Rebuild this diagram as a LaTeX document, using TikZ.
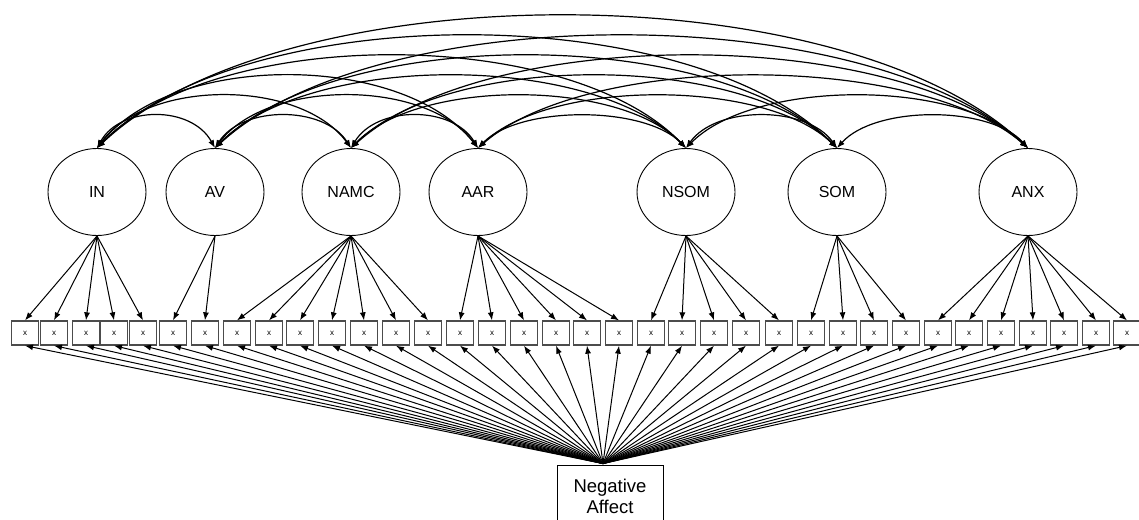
\documentclass[tikz,border=0pt]{standalone}
\usepackage{fontspec}
\setmainfont{Liberation Sans}
\usetikzlibrary{arrows.meta,calc,shapes.geometric}
\begin{document}
\begin{tikzpicture}[x=1pt,y=-1pt,
  lat/.style={ellipse, draw, line width=0.9pt, minimum width=98pt, minimum height=87pt, inner sep=0pt, font=\fontsize{16}{19}\selectfont},
  ind/.style={rectangle, draw=black!70, line width=1.3pt, minimum width=27pt, minimum height=24pt, inner sep=0pt, font=\fontsize{8}{9}\selectfont},
  nabox/.style={rectangle, draw, line width=0.9pt, minimum width=106pt, minimum height=66pt, inner sep=0pt},
  natext/.style={align=center, font=\fontsize{18.5}{21}\selectfont},
  load/.style={-{Latex[length=8pt,width=6pt]}, line width=1pt},
  cov/.style={{Latex[length=8pt,width=6pt]}-{Latex[length=8pt,width=6pt]}, line width=1.2pt},
]
\useasboundingbox (0,0) rectangle (1139,519);

% latent factors
\foreach \n/\x [count=\i] in {IN/97, AV/215, NAMC/351, AAR/478, NSOM/686, SOM/837, ANX/1028}
  \node[lat] (L\i) at (\x,192) {\n};

% indicator boxes
\foreach \x [count=\i] in {25,54,86,114,143,173,205,237,269,300,332,364,396,428,460,492,524,556,587,619,651,682,714,746,779,811,843,874,906,938,969,1001,1033,1064,1096,1127}
  \node[ind] (b\i) at (\x,333) {x};

% Negative Affect
\node[nabox] (NA) at (610,498) {};
\node[natext] (NAt) at (610,496) {Negative\\Affect};
\coordinate (nap) at ($(NA.north)+(-7,-1)$);

% loadings
\foreach \i in {1,...,5}   \draw[load] (L1.south) -- (b\i.north);
\foreach \i in {6,7}       \draw[load] (L2.south) -- (b\i.north);
\foreach \i in {8,...,14}  \draw[load] (L3.south) -- (b\i.north);
\foreach \i in {15,...,20} \draw[load] (L4.south) -- (b\i.north);
\foreach \i in {21,...,25} \draw[load] (L5.south) -- (b\i.north);
\foreach \i in {26,...,29} \draw[load] (L6.south) -- (b\i.north);
\foreach \i in {30,...,36} \draw[load] (L7.south) -- (b\i.north);

% general factor
\foreach \i in {1,...,36} \draw[load] (nap) -- (b\i.south);

% covariances
\foreach \i in {1,...,6}{
  \pgfmathtruncatemacro\jstart{\i+1}
  \foreach \j in {\jstart,...,7}{
    \pgfmathsetmacro\H{(20*(\j-\i)+12)/0.75}
    \draw[cov] (L\i.north) .. controls ($(L\i.north)!0.2!(L\j.north)+(0,-\H)$)
                              and ($(L\i.north)!0.8!(L\j.north)+(0,-\H)$) .. (L\j.north);
  }
}
\end{tikzpicture}
\end{document}
